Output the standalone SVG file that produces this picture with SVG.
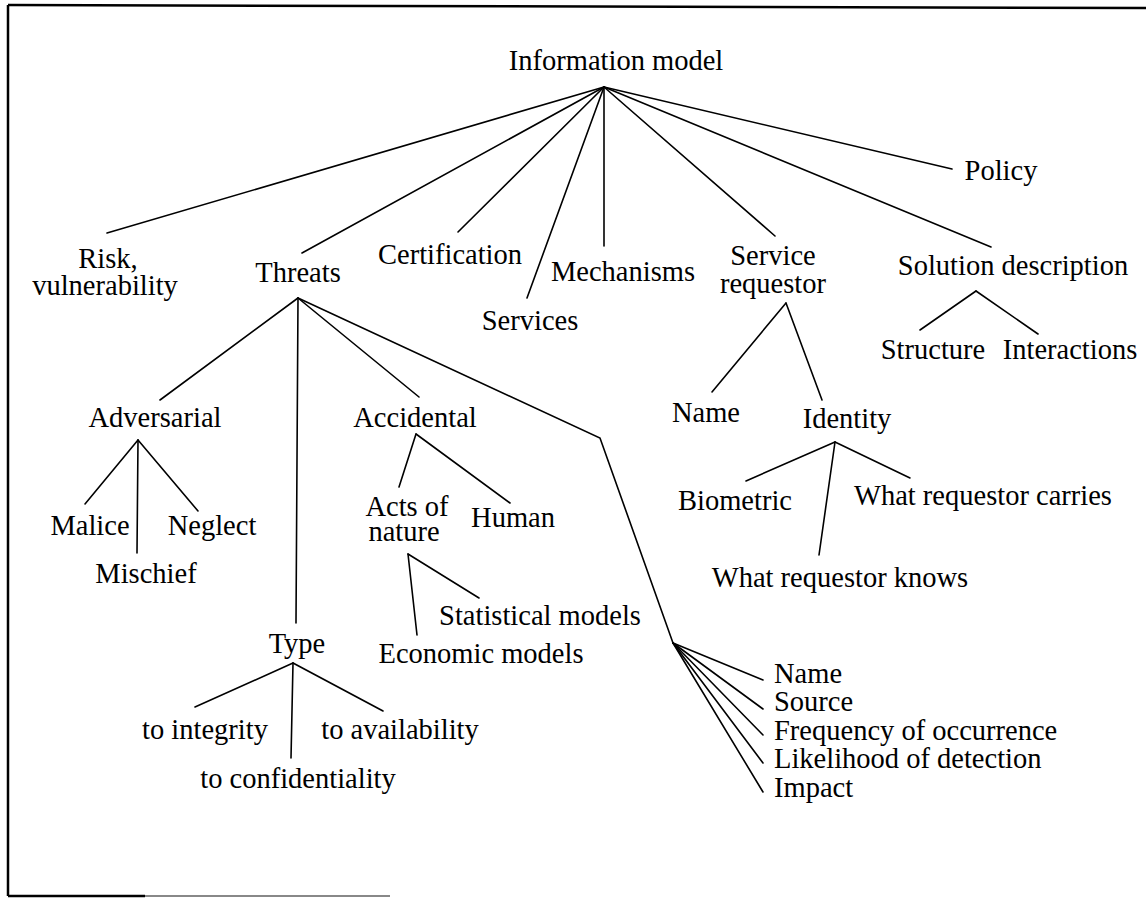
<svg xmlns="http://www.w3.org/2000/svg" width="1146" height="898" viewBox="0 0 1146 898">
<style>
text{font-family:"Liberation Serif","Times New Roman",serif;font-size:28.5px;fill:#000;text-anchor:middle}
.l{text-anchor:start}
#connectors line,#connectors polyline{stroke:#000;stroke-width:1.6;fill:none;stroke-linecap:round}
.frame{stroke:#000;stroke-width:2.5;fill:none}
</style>
<rect width="1146" height="898" fill="#fff"/>
<g id="frame">
<line class="frame" x1="8" y1="5" x2="1146" y2="8"/>
<line class="frame" x1="8" y1="5" x2="8" y2="896"/>
<line class="frame" x1="8" y1="896" x2="145" y2="896"/>
<line x1="145" y1="896" x2="390" y2="896" stroke="#888" stroke-width="2"/>
</g>
<g id="connectors">
<line x1="604" y1="87" x2="107" y2="233"/>
<line x1="604" y1="87" x2="302" y2="253"/>
<line x1="604" y1="87" x2="458" y2="232"/>
<line x1="604" y1="87" x2="527" y2="298"/>
<line x1="604" y1="87" x2="604" y2="246"/>
<line x1="604" y1="87" x2="775" y2="236"/>
<line x1="604" y1="87" x2="991" y2="247"/>
<line x1="604" y1="87" x2="952" y2="169"/>
<line x1="298" y1="298" x2="160" y2="400"/>
<line x1="298" y1="298" x2="296" y2="623"/>
<line x1="298" y1="298" x2="419" y2="397"/>
<polyline points="298,298 600,438 673,643"/>
<line x1="673" y1="643" x2="763" y2="680"/>
<line x1="673" y1="643" x2="763" y2="709"/>
<line x1="673" y1="643" x2="763" y2="735"/>
<line x1="673" y1="643" x2="763" y2="763"/>
<line x1="673" y1="643" x2="763" y2="792"/>
<line x1="138" y1="440" x2="85" y2="504"/>
<line x1="138" y1="440" x2="137" y2="553"/>
<line x1="138" y1="440" x2="198" y2="511"/>
<line x1="416" y1="434" x2="399" y2="487"/>
<line x1="416" y1="434" x2="510" y2="503"/>
<line x1="408" y1="554" x2="417" y2="635"/>
<line x1="408" y1="554" x2="479" y2="598"/>
<line x1="293" y1="663" x2="195" y2="707"/>
<line x1="293" y1="663" x2="291" y2="758"/>
<line x1="293" y1="663" x2="383" y2="711"/>
<line x1="786" y1="303" x2="712" y2="392"/>
<line x1="786" y1="303" x2="822" y2="400"/>
<line x1="835" y1="442" x2="746" y2="481"/>
<line x1="835" y1="442" x2="819" y2="555"/>
<line x1="835" y1="442" x2="910" y2="478"/>
<line x1="976" y1="291" x2="920" y2="330"/>
<line x1="976" y1="291" x2="1038" y2="334"/>
</g>
<g id="n-root"><text x="616" y="70">Information model</text></g>
<g id="n-risk"><text x="108" y="268">Risk,</text><text x="105" y="295">vulnerability</text></g>
<g id="n-threats"><text x="298" y="282">Threats</text></g>
<g id="n-certification"><text x="450" y="264">Certification</text></g>
<g id="n-services"><text x="530" y="330">Services</text></g>
<g id="n-mechanisms"><text x="623" y="281">Mechanisms</text></g>
<g id="n-requestor"><text x="773" y="265">Service</text><text x="773" y="293">requestor</text></g>
<g id="n-solution"><text x="1013" y="275">Solution description</text></g>
<g id="n-policy"><text x="1001" y="180">Policy</text></g>
<g id="n-structure"><text x="933" y="359">Structure</text></g>
<g id="n-interactions"><text x="1070" y="359">Interactions</text></g>
<g id="n-name"><text x="706" y="422">Name</text></g>
<g id="n-identity"><text x="847" y="428">Identity</text></g>
<g id="n-biometric"><text x="735" y="510">Biometric</text></g>
<g id="n-carries"><text x="983" y="505">What requestor carries</text></g>
<g id="n-knows"><text x="840" y="587">What requestor knows</text></g>
<g id="n-adversarial"><text x="155" y="427">Adversarial</text></g>
<g id="n-accidental"><text x="415" y="427">Accidental</text></g>
<g id="n-malice"><text x="90" y="535">Malice</text></g>
<g id="n-neglect"><text x="212" y="535">Neglect</text></g>
<g id="n-mischief"><text x="146" y="583">Mischief</text></g>
<g id="n-acts"><text x="407" y="516">Acts of</text><text x="404" y="541">nature</text></g>
<g id="n-human"><text x="513" y="527">Human</text></g>
<g id="n-statistical"><text x="540" y="625">Statistical models</text></g>
<g id="n-economic"><text x="481" y="663">Economic models</text></g>
<g id="n-type"><text x="297" y="653">Type</text></g>
<g id="n-integrity"><text x="205" y="739">to integrity</text></g>
<g id="n-availability"><text x="400" y="739">to availability</text></g>
<g id="n-confidentiality"><text x="298" y="788">to confidentiality</text></g>
<g id="n-attributes">
<text class="l" x="774" y="683">Name</text>
<text class="l" x="774" y="711">Source</text>
<text class="l" x="774" y="740">Frequency of occurrence</text>
<text class="l" x="774" y="768">Likelihood of detection</text>
<text class="l" x="774" y="797">Impact</text>
</g>
</svg>
